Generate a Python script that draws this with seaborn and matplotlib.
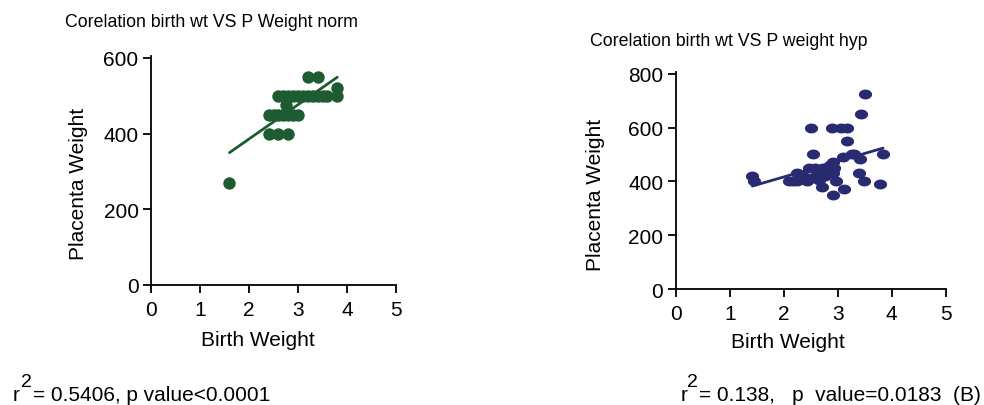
import numpy as np
import pandas as pd
import matplotlib
matplotlib.use("Agg")
import matplotlib.pyplot as plt
from matplotlib.path import Path as MPath
import seaborn as sns

# Normal pregnancies: birth weight (kg) vs placenta weight (g)
norm_birth_wt = [1.6, 2.4, 2.6, 2.8,
                 2.4, 2.5, 2.6, 2.7, 2.8, 2.9, 3.0,
                 2.75,
                 2.6, 2.7, 2.8, 2.9, 3.0, 3.1, 3.2, 3.3, 3.4, 3.5, 3.6, 3.8,
                 3.8, 3.2, 3.4]
norm_placenta_wt = [270, 400, 400, 400,
                    450, 450, 450, 450, 450, 450, 450,
                    475,
                    500, 500, 500, 500, 500, 500, 500, 500, 500, 500, 500, 500,
                    520, 550, 550]

# Hypertensive pregnancies
hyp_birth_wt = [1.42, 1.45, 2.17, 2.24, 2.24, 2.44, 2.5, 2.54, 2.47, 2.58,
                2.52, 2.66, 2.7, 2.73, 2.76, 2.89, 2.91, 2.91, 2.93, 2.92,
                2.96, 3.07, 3.17, 3.18, 3.09, 3.12, 3.26, 3.31, 3.41, 3.39,
                3.49, 3.44, 3.5, 3.78, 3.84, 2.1, 2.35, 2.62, 2.8, 2.85]
hyp_placenta_wt = [420, 400, 400, 400, 430, 400, 600, 500, 450, 450,
                   412, 406, 380, 449, 420, 600, 471, 350, 449, 430,
                   400, 600, 600, 550, 491, 371, 500, 500, 482, 430,
                   400, 649, 726, 390, 500, 400, 420, 440, 430, 460]

x_ticks = [0, 1, 2, 3, 4, 5]
norm_y_ticks = [0, 200, 400, 600]
hyp_y_ticks = [0, 200, 400, 600, 800]

norm_title = 'Corelation birth wt VS P Weight norm'
hyp_title = 'Corelation birth wt VS P weight hyp'
norm_stats = '= 0.5406, p value<0.0001'
hyp_stats = '= 0.138,   p  value=0.0183  (B)'

GREEN = "#1d5c30"
NAVY = "#282b70"

sns.set_theme(style="ticks")
plt.rcParams['font.family'] = ['Liberation Sans', 'DejaVu Sans']
plt.rcParams['text.color'] = 'black'
plt.rcParams['axes.labelcolor'] = 'black'

norm_df = pd.DataFrame({'birth': norm_birth_wt, 'placenta': norm_placenta_wt})
hyp_df = pd.DataFrame({'birth': hyp_birth_wt, 'placenta': hyp_placenta_wt})

# flattened ellipse marker for the right panel
t = np.linspace(0, 2 * np.pi, 40)
ellipse = MPath(np.column_stack([np.cos(t), 0.75 * np.sin(t)]), closed=True)

fig = plt.figure(figsize=(9.84, 4.06), dpi=100)
ax1 = fig.add_axes([0.1535, 0.2956, 0.249, 0.564])
ax2 = fig.add_axes([0.6867, 0.2857, 0.2744, 0.5337])

def style_axis(ax, yticks, ymax, ylab_xy, xlab_xy):
    ax.set_xlim(0, 5)
    ax.set_ylim(0, ymax)
    ax.set_xticks(x_ticks)
    ax.set_yticks(yticks)
    sns.despine(ax=ax)
    for s in ['left', 'bottom']:
        ax.spines[s].set_linewidth(1.3)
        ax.spines[s].set_color('black')
    ax.tick_params(direction='out', length=6, width=1.3, labelsize=15,
                   colors='black')
    ax.tick_params(axis='y', pad=3)
    ax.tick_params(axis='x', pad=5)
    ax.set_xlabel('Birth Weight', fontsize=15)
    ax.set_ylabel('Placenta Weight', fontsize=15)
    ax.yaxis.set_label_coords(*ylab_xy)
    ax.xaxis.set_label_coords(*xlab_xy)

sns.scatterplot(data=norm_df, x='birth', y='placenta', ax=ax1, color=GREEN,
                s=80, linewidth=0, zorder=3)
sns.regplot(data=norm_df, x='birth', y='placenta', ax=ax1, scatter=False,
            ci=None, color=GREEN, line_kws={'linewidth': 2})
style_axis(ax1, norm_y_ticks, 605, (-0.257, 0.445), (0.435, -0.197))

sns.scatterplot(data=hyp_df, x='birth', y='placenta', ax=ax2, color=NAVY,
                s=90, marker=ellipse, linewidth=0, zorder=3)
sns.regplot(data=hyp_df, x='birth', y='placenta', ax=ax2, scatter=False,
            ci=None, color=NAVY, line_kws={'linewidth': 2})
style_axis(ax2, hyp_y_ticks, 805, (-0.262, 0.438), (0.416, -0.198))

# titles sit left of the axes centre in the original
fig.text(0.066, 0.934, norm_title, fontsize=12.8, va='baseline')
fig.text(0.5996, 0.8875, hyp_title, fontsize=12.8, va='baseline')

# r-squared annotations
fig.text(0.0132, 0.013, 'r', fontsize=15, va='baseline')
fig.text(0.0213, 0.048, '2', fontsize=14, va='baseline')
fig.text(0.0335, 0.013, norm_stats, fontsize=15, va='baseline')
fig.text(0.6916, 0.013, 'r', fontsize=15, va='baseline')
fig.text(0.6978, 0.048, '2', fontsize=14, va='baseline')
fig.text(0.7104, 0.013, hyp_stats, fontsize=15, va='baseline')

fig.savefig('out.png', dpi=100)
